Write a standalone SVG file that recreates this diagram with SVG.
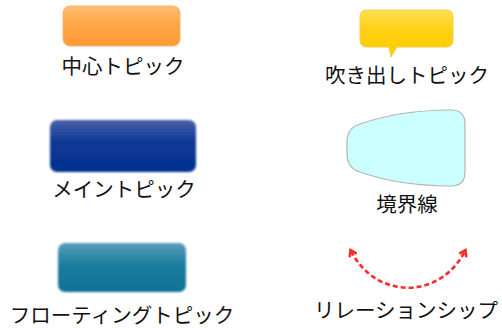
<svg xmlns="http://www.w3.org/2000/svg" width="502" height="328" viewBox="0 0 502 328">
<style>
text{font-family:"Noto Sans CJK JP","Noto Sans",sans-serif;font-size:20.5px;fill:#111;text-anchor:middle}
</style>
<defs>
<linearGradient id="gOrange" x1="0" y1="0" x2="0" y2="1">
<stop offset="0" stop-color="#FFBE72"/><stop offset="0.45" stop-color="#FFA647"/><stop offset="1" stop-color="#FF9A35"/>
</linearGradient>
<linearGradient id="gYellow" x1="0" y1="0" x2="0" y2="1">
<stop offset="0" stop-color="#FFDE55"/><stop offset="0.45" stop-color="#FFCF10"/><stop offset="1" stop-color="#FFCC00"/>
</linearGradient>
<linearGradient id="gBlue" x1="0" y1="0" x2="0" y2="1">
<stop offset="0" stop-color="#4A62A8"/><stop offset="0.4" stop-color="#103A96"/><stop offset="1" stop-color="#003090"/>
</linearGradient>
<linearGradient id="gTeal" x1="0" y1="0" x2="0" y2="1">
<stop offset="0" stop-color="#5A9EBA"/><stop offset="0.45" stop-color="#1B7C9E"/><stop offset="1" stop-color="#0F7396"/>
</linearGradient>
<filter id="soft" x="-10%" y="-10%" width="120%" height="120%"><feGaussianBlur stdDeviation="0.9"/></filter>
<filter id="soft2" x="-10%" y="-20%" width="120%" height="140%"><feGaussianBlur stdDeviation="0.6"/></filter>
<marker id="arr" markerWidth="10" markerHeight="10" refX="6" refY="5" orient="auto-start-reverse" markerUnits="userSpaceOnUse">
<path d="M1,1 L7,5 L1,9" fill="none" stroke="#FF2A2A" stroke-width="2.6"/>
</marker>
</defs>

<g id="central">
<rect x="63" y="6" width="117" height="40" rx="7" fill="url(#gOrange)" stroke="#F7B370" stroke-width="1"/>
<text x="123" y="74">中心トピック</text>
</g>

<g id="callout">
<path d="M367,10 H446 Q453,10 453,17 V40 Q453,47 446,47 H397 L391,57 L389,47 H367 Q360,47 360,40 V17 Q360,10 367,10 Z" fill="url(#gYellow)" stroke="#F5CF40" stroke-width="1"/>
<text x="407" y="83">吹き出しトピック</text>
</g>

<g id="main">
<rect x="50" y="120" width="146" height="52" rx="7" fill="url(#gBlue)" filter="url(#soft)"/>
<text x="124" y="197">メイントピック</text>
</g>

<g id="boundary">
<path d="M360,124 Q400,110 451,110 Q465,110 465,124 V172 Q465,186 451,186 Q400,186 360,172 Q347,168 347,154 V142 Q347,128 360,124 Z" fill="#CCFFFF" stroke="#B4B4B4" stroke-width="1.2"/>
<text x="407" y="212">境界線</text>
</g>

<g id="floating">
<rect x="58" y="243" width="128" height="49" rx="7" fill="url(#gTeal)" filter="url(#soft)"/>
<text x="122" y="323">フローティングトピック</text>
</g>

<g id="connectors">
<path d="M351,251 C376,300 440,300 465,251" fill="none" stroke="#FF2A2A" stroke-width="2.6" stroke-dasharray="5,3" marker-start="url(#arr)" marker-end="url(#arr)" filter="url(#soft2)"/>
</g>
<text x="406" y="318">リレーションシップ</text>
</svg>
